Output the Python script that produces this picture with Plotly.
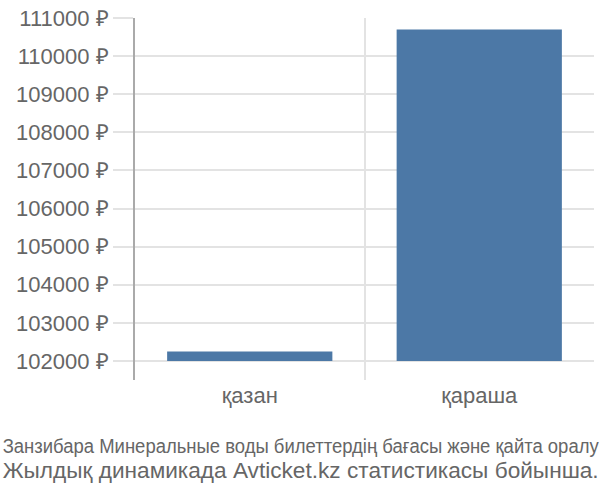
import plotly.graph_objects as go

months = ["қазан", "қараша"]
prices = [102250, 110700]
base_price = 102000
y_ticks = list(range(102000, 111001, 1000))
y_labels = [f"{v} ₽" for v in y_ticks]

title_line1 = "Занзибара Минеральные воды билеттердің бағасы және қайта оралу"
title_line2 = "Жылдық динамикада Avticket.kz статистикасы бойынша."

grid = "#e3e3e3"
text_col = "#666666"

fig = go.Figure(go.Bar(
    x=months,
    y=[p - base_price for p in prices],
    base=base_price,
    marker=dict(color="#4c78a6", line=dict(width=0)),
    width=0.72,
))

fig.update_layout(
    width=600, height=500,
    margin=dict(l=135, r=6, t=14, b=120),
    plot_bgcolor="white", paper_bgcolor="white",
    showlegend=False,
    font=dict(family="Liberation Sans", color=text_col, size=22),
)

fig.update_xaxes(
    tickson="boundaries", ticks="",
    showgrid=True, gridcolor=grid, gridwidth=2,
    range=[-0.5, 1.5],
    tickfont=dict(size=22, color=text_col),
)
fig.update_yaxes(
    range=[101500, 111000],
    tickmode="array", tickvals=y_ticks, ticktext=y_labels,
    showgrid=True, gridcolor=grid, gridwidth=2,
    ticks="outside", ticklen=20, tickcolor=grid, tickwidth=2,
    showline=True, linecolor="#aaaaaa", linewidth=2,
    zeroline=False,
    tickfont=dict(size=22, color=text_col),
)

# title sits under the chart, centred on the page; squeezed to full width below
cx = (300 - 135) / 459
fig.add_annotation(
    text=title_line1, xref="paper", yref="paper",
    x=cx, y=-67 / 366, xanchor="center", yanchor="middle",
    showarrow=False,
    font=dict(family="Liberation Sans", size=20, color=text_col),
)
fig.add_annotation(
    text=title_line2, xref="paper", yref="paper",
    x=cx, y=-92 / 366, xanchor="center", yanchor="middle",
    showarrow=False,
    font=dict(family="Liberation Sans", size=22, color=text_col),
)

squeeze = """
document.body.style.margin = '0';
document.querySelectorAll('.annotation-text').forEach(function (t) {
    t.setAttribute('textLength', '596');
    t.setAttribute('lengthAdjust', 'spacingAndGlyphs');
});
"""

fig.write_html("out.html", post_script=squeeze, config={"displayModeBar": False})
